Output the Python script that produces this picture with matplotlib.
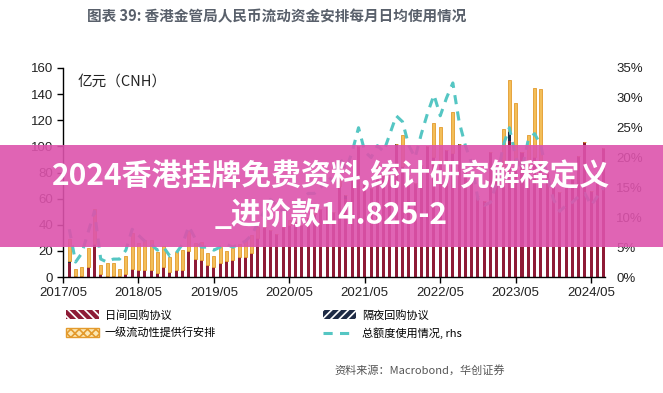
import matplotlib
matplotlib.use('Agg')
import matplotlib.pyplot as plt
from matplotlib.patches import Patch, Rectangle
from matplotlib.lines import Line2D
import numpy as np

plt.rcParams['font.family'] = ['Noto Sans CJK SC', 'DejaVu Sans']
plt.rcParams['hatch.color'] = 'white'
plt.rcParams['hatch.linewidth'] = 1.2

# monthly data, 2017/06 .. 2024/07 (month index 1..86, 2017/05 = 0)
tick_labels = ['2017/05', '2018/05', '2019/05', '2020/05',
               '2021/05', '2022/05', '2023/05', '2024/05']

intraday = [11, 1, 1, 8, 25, 2, 1, 1, 1, 2,
            6, 5, 5, 5, 3, 8, 4, 5, 5, 20,
            14, 13, 9, 8, 11, 12, 13, 15, 15, 18,
            30, 38, 36, 33, 38, 40, 42, 40, 45, 48,
            52, 55, 50, 70, 60, 75, 100, 72, 68, 82,
            78, 88, 100, 85, 78, 72, 86, 100, 92, 88,
            97, 95, 100, 82, 75, 62, 58, 96, 80, 82,
            104, 90, 96, 82, 92, 88, 80, 72, 65, 70,
            75, 93, 103, 66, 80, 99]

overnight = [1, 0, 0, 0, 0, 0, 0, 0, 0, 0,
             0, 0, 0, 0, 0, 0, 0, 0, 0, 0,
             0, 0, 0, 0, 0, 0, 0, 0, 0, 0,
             0, 0, 0, 0, 0, 0, 0, 0, 0, 0,
             0, 0, 0, 0, 3, 0, 0, 0, 0, 0,
             0, 0, 2, 0, 0, 0, 0, 0, 0, 0,
             0, 0, 2, 0, 0, 0, 0, 0, 0, 0,
             8, 0, 0, 0, 0, 0, 0, 0, 0, 0,
             0, 0, 0, 0, 0, 0]

facility = [17, 5, 7, 14, 27, 7, 10, 10, 5, 14,
            28, 21, 23, 23, 16, 16, 11, 14, 16, 15,
            12, 14, 9, 8, 12, 8, 9, 10, 13, 14,
            8, 5, 0, 0, 0, 4, 0, 0, 0, 5,
            0, 0, 0, 6, 0, 0, 0, 0, 0, 5,
            0, 0, 0, 24, 0, 0, 0, 0, 26, 27,
            0, 31, 0, 0, 0, 0, 0, 0, 0, 31,
            39, 43, 0, 27, 53, 56, 0, 0, 0, 0,
            0, 0, 0, 0, 0, 0]

usage_pct = [8, 2.5, 4, 7.5, 11, 3, 2.5, 3, 3, 4.5,
             8, 7, 6, 5.5, 4.5, 5, 3.5, 4, 5.5, 8.5,
             6.5, 5, 5, 4.5, 5, 5.5, 5, 5.5, 6, 7,
             9, 11, 13, 12, 11, 11.5, 12, 13, 14, 14,
             15, 17, 16, 20, 18, 21, 25, 21, 20, 22,
             21, 24, 27, 26, 22, 20, 24, 27.5, 30.5, 27,
             30, 32.5, 26, 22, 19, 13, 12, 12.5, 16, 22,
             25, 20, 18, 23, 24, 22, 17, 13, 11, 12,
             12.5, 13.5, 14, 12, 13.5, 15]

x = np.arange(1, len(intraday) + 1)
intraday = np.array(intraday)
overnight = np.array(overnight)
facility = np.array(facility)

c_day = '#8E1B36'
c_night = '#1E2B45'
c_fac = '#F3BE58'
c_fac_edge = '#E39A2D'
c_line = '#55C6C3'

fig = plt.figure(figsize=(6.63, 3.93), dpi=100)
ax = fig.add_axes([63 / 663, 1 - 277 / 393, 542 / 663, 209 / 393])

w = 0.48
ax.bar(x, intraday, width=w, color=c_day, linewidth=0)
ax.bar(x, overnight, width=w, bottom=intraday, color=c_night, linewidth=0)
ax.bar(x, facility, width=w, bottom=intraday + overnight, color=c_fac,
       edgecolor=c_fac_edge, linewidth=0.6)

ax.set_xlim(0, 86.2)
ax.set_ylim(0, 160)
ax.set_yticks(range(0, 161, 20))
ax.set_xticks(range(0, 85, 12))
ax.set_xticklabels(tick_labels)
for s in ['top', 'right']:
    ax.spines[s].set_visible(False)
ax.spines['left'].set_linewidth(1.0)
ax.spines['bottom'].set_linewidth(1.0)
ax.tick_params(axis='both', direction='out', length=4, width=1.0,
               labelsize=9.5, pad=3)
for lab in ax.get_xticklabels() + ax.get_yticklabels():
    lab.set_family(['Liberation Sans', 'DejaVu Sans'])
    lab.set_color('#222222')

ax2 = ax.twinx()
ax2.plot(x, usage_pct, color=c_line, linewidth=2.2, dashes=(3, 2.4))
ax2.set_ylim(0, 35)
ax2.set_yticks(range(0, 36, 5))
ax2.set_yticklabels(['%d%%' % v for v in range(0, 36, 5)])
for s in ax2.spines.values():
    s.set_visible(False)
ax2.tick_params(axis='y', length=0, labelsize=9.5, pad=8)
for lab in ax2.get_yticklabels():
    lab.set_family(['Liberation Sans', 'DejaVu Sans'])
    lab.set_color('#222222')

fig.text(78 / 663, 1 - 82 / 393, '亿元（CNH）', fontsize=10.5, va='center', ha='left',
         color='#222222')

fig.text(277 / 663, 1 - 16 / 393, '图表 39: 香港金管局人民币流动资金安排每月日均使用情况',
         ha='center', va='center', fontsize=10.5, fontweight='bold', color='#59606B')

handles = [
    Patch(facecolor=c_day, hatch='\\\\\\\\', label='日间回购协议'),
    Patch(facecolor='#FCE8B4', edgecolor=c_fac_edge, hatch='xxxx', label='一级流动性提供行安排'),
    Patch(facecolor=c_night, hatch='////', label='隔夜回购协议'),
    Line2D([], [], color=c_line, linewidth=2.2, dashes=(3, 2.4), label='总额度使用情况, rhs'),
]
fig.legend(handles=handles, ncol=2, frameon=False, loc='upper left',
           bbox_to_anchor=(66 / 663, 1 - 310 / 393), fontsize=8,
           handlelength=3.0, handleheight=0.9, handletextpad=0.5,
           columnspacing=9.6, labelspacing=0.6, borderpad=0, borderaxespad=0)

fig.text(505 / 663, 1 - 370 / 393, '资料来源：Macrobond，华创证券', ha='right', va='center',
         fontsize=8, color='#555555')

# overlay banner
fig.patches.append(Rectangle((0, 1 - 247 / 393), 1, 102 / 393, transform=fig.transFigure,
                             facecolor='#DD53AC', alpha=0.9, edgecolor='none', zorder=10))
fig.text(0.5, 1 - 176 / 393, '2024香港挂牌免费资料,统计研究解释定义', ha='center', va='center',
         fontsize=21.5, fontweight='bold', color='white', zorder=11)
fig.text(0.5, 1 - 215 / 393, '_进阶款14.825-2', ha='center', va='center',
         fontsize=21.5, fontweight='bold', color='white', zorder=11)

fig.savefig('out.png', dpi=100)
